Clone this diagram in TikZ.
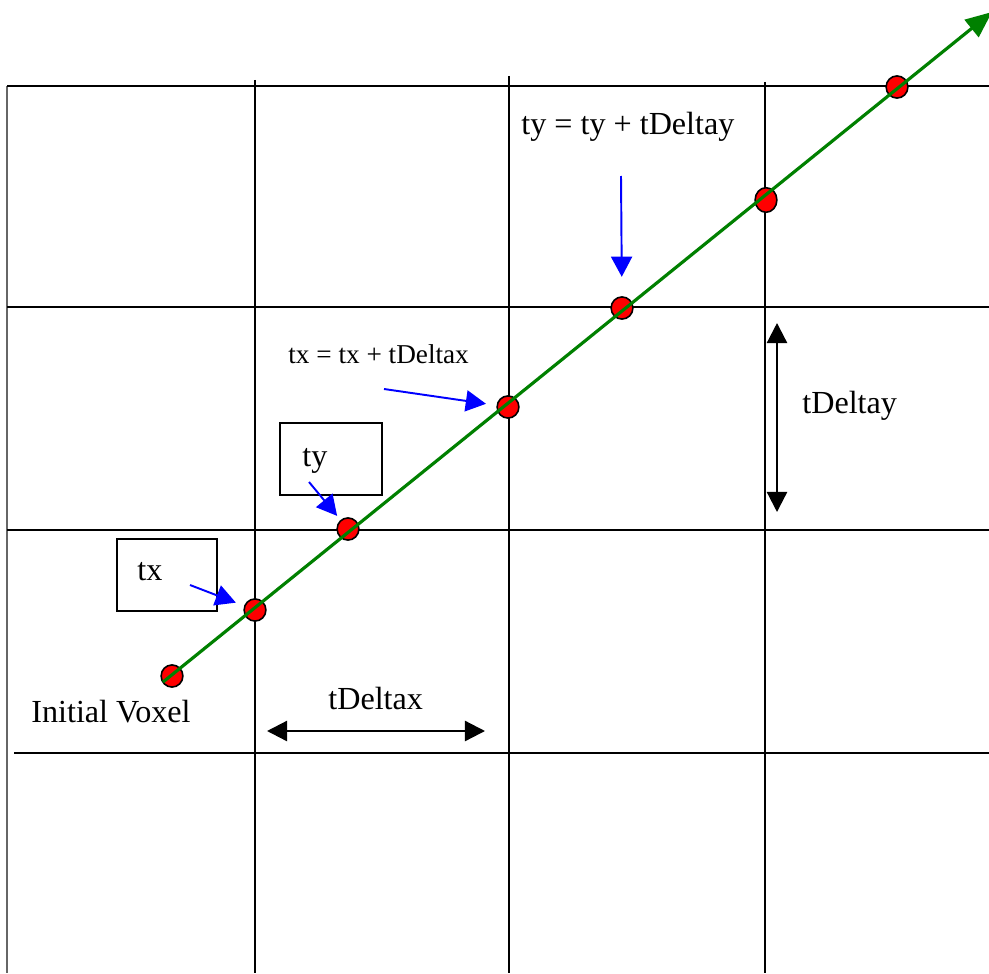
\documentclass[tikz,border=0pt]{standalone}
\usepackage{fontspec}
\setmainfont{Liberation Serif}
\usetikzlibrary{arrows.meta,shapes.geometric}

\begin{document}
\begin{tikzpicture}[x=0.02cm, y=-0.02cm,
  grid/.style={line width=1.1pt},
  dot/.style={ellipse, draw, fill=red, line width=0.9pt, minimum width=12.4pt, minimum height=12.6pt, inner sep=0pt},
  ray/.style={draw=green!50!black, line width=1.8pt, -{Triangle[length=15pt,width=12.5pt]}},
  hint/.style={draw=blue, line width=1.1pt, -{Triangle[length=11.5pt,width=12pt]}},
  span/.style={line width=1.3pt, {Triangle[length=11.5pt,width=11.5pt]}-{Triangle[length=11.5pt,width=11.5pt]}},
  tagbox/.style={draw, line width=1pt, minimum width=57pt, minimum height=40.8pt},
  txt/.style={font=\fontsize{18.3}{21}\selectfont, inner sep=0pt, anchor=base west},
  smalltxt/.style={font=\fontsize{15.5}{18}\selectfont, inner sep=0pt, anchor=base west}]
\useasboundingbox (0,0) rectangle (989,973);

% voxel grid
\draw[black!60, line width=0.6pt] (7,86) -- (7,973);
\draw[grid] (7,86) -- (989,86);
\draw[grid] (7,307) -- (989,307);
\draw[grid] (7,530) -- (989,530);
\draw[grid] (14,753) -- (989,753);
\draw[grid] (255,80) -- (255,973);
\draw[grid] (509,76) -- (509,973);
\draw[grid] (765,82) -- (765,973);

% crossing points
\node[dot] (d0) at (172,676) {};
\node[dot] (d1) at (255,610) {};
\node[dot] (d2) at (348,529) {};
\node[dot] (d3) at (508,407) {};
\node[dot] (d4) at (622,308) {};
\node[dot, minimum height=14pt] (d5) at (766,200) {};
\node[dot] (d6) at (897,87) {};

% the ray
\coordinate (raystart) at (163,682);
\coordinate (rayend) at (992,12);
\draw[ray] (raystart) -- (rayend);

% labels
\node[tagbox] (txbox) at (167,575) {};
\node[tagbox, minimum width=57.8pt] (tybox) at (331,459) {};
\node[txt] (txlabel) at (137,580) {tx};
\node[txt] (tylabel) at (302,466) {ty};
\node[txt] (init) at (31,722) {Initial Voxel};
\node[txt] (stepy) at (521,135) {ty = ty + tDeltay};
\node[smalltxt] (stepx) at (288,363) {tx = tx + tDeltax};
\node[txt] (deltax) at (328,709) {tDeltax};
\node[txt] (deltay) at (802,413) {tDeltay};

% pointers
\coordinate (txtail) at (190,585);
\coordinate (tytail) at (309,482);
\coordinate (stepxtail) at (384,389);
\coordinate (stepytail) at (621,176);
\draw[hint, shorten >=5pt] (txtail) -- (d1);
\draw[hint, shorten >=3pt] (tytail) -- (d2);
\draw[hint, shorten >=6pt] (stepxtail) -- (d3);
\draw[hint, shorten >=11pt] (stepytail) -- (d4);

% cell sizes
\coordinate (dxl) at (267,731);
\coordinate (dxr) at (485,731);
\coordinate (dyt) at (777,323);
\coordinate (dyb) at (777,512);
\draw[span] (dxl) -- (dxr);
\draw[span] (dyt) -- (dyb);
\end{tikzpicture}
\end{document}
